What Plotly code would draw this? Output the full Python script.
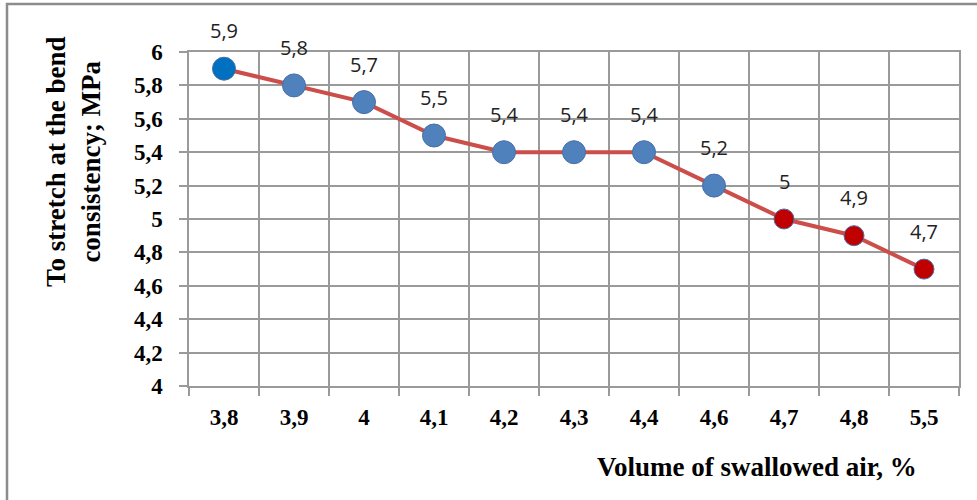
import plotly.graph_objects as go

categories = ["3,8", "3,9", "4", "4,1", "4,2", "4,3", "4,4", "4,6", "4,7", "4,8", "5,5"]
values = [5.9, 5.8, 5.7, 5.5, 5.4, 5.4, 5.4, 5.2, 5.0, 4.9, 4.7]
value_labels = ["5,9", "5,8", "5,7", "5,5", "5,4", "5,4", "5,4", "5,2", "5", "4,9", "4,7"]
marker_colors = ["#0070C0"] + ["#4F81BD"] * 7 + ["#C00000"] * 3
marker_sizes = [23] * 8 + [20] * 3
y_ticks = [4.0, 4.2, 4.4, 4.6, 4.8, 5.0, 5.2, 5.4, 5.6, 5.8, 6.0]
y_ticktext = ["4", "4,2", "4,4", "4,6", "4,8", "5", "5,2", "5,4", "5,6", "5,8", "6"]

L, R, T, B = 189, 18, 52, 114
W, H = 977, 500
pw, ph = W - L - R, H - T - B

xpos = list(range(len(categories)))

fig = go.Figure()
fig.add_trace(go.Scatter(
    x=xpos, y=values, mode="lines+markers",
    line=dict(color="#CC4E4B", width=4),
    marker=dict(color=marker_colors, size=marker_sizes, opacity=1,
                line=dict(color="#4A6FA5", width=1)),
    hoverinfo="skip", showlegend=False,
))

for i, v, t in zip(xpos, values, value_labels):
    fig.add_annotation(x=i, y=v, text=t, showarrow=False, yshift=38,
                       font=dict(family="Open Sans, Calibri, sans-serif", size=20, color="#222"))

serif = "Liberation Serif, Times New Roman, serif"
fig.update_xaxes(
    tickmode="array", tickvals=xpos, ticktext=categories, range=[-0.5, 10.5],
    showgrid=False,
    showline=True, linecolor="#9a9a9a", linewidth=1.5, mirror=True,
    ticks="",
    tickfont=dict(family=serif, size=23, color="black", weight="bold"),
    ticklabelstandoff=10, zeroline=False,
)
fig.update_xaxes(minor=dict(tickmode="array", tickvals=[i - 0.5 for i in xpos] + [len(xpos) - 0.5],
                            showgrid=True, gridcolor="#9a9a9a", gridwidth=1.5,
                            ticks="outside", ticklen=8, tickcolor="#9a9a9a", tickwidth=1.5))
fig.update_yaxes(
    range=[4, 6], tickvals=y_ticks, ticktext=y_ticktext,
    showgrid=True, gridcolor="#9a9a9a", gridwidth=1.5,
    showline=True, linecolor="#9a9a9a", linewidth=1.5, mirror=True,
    ticks="outside", ticklen=8, tickcolor="#9a9a9a", tickwidth=1.5,
    tickfont=dict(family=serif, size=23, color="black", weight="bold"),
    ticklabelstandoff=12, zeroline=False,
)

# y title
fig.add_annotation(
    xref="paper", yref="paper", xanchor="center", yanchor="middle",
    x=(73 - L) / pw, y=(H - B - 162) / ph,
    text="To stretch at the bend<br>consistency; MPa", textangle=-90,
    showarrow=False, font=dict(family=serif, size=27, color="black", weight="bold"),
)
# x title
fig.add_annotation(
    xref="paper", yref="paper", xanchor="center", yanchor="middle",
    x=(757 - L) / pw, y=(H - B - 467) / ph,
    text="Volume of swallowed air, %", showarrow=False,
    font=dict(family=serif, size=27, color="black", weight="bold"),
)
# outer frame
fig.add_shape(type="rect", xref="paper", yref="paper",
              x0=(7 - L) / pw, x1=(990 - L) / pw,
              y0=(H - B - 520) / ph, y1=(H - B - 4) / ph,
              line=dict(color="#8c8c8c", width=2.5), layer="below")

fig.update_layout(
    width=W, height=H, margin=dict(l=L, r=R, t=T, b=B),
    paper_bgcolor="white", plot_bgcolor="white",
)
fig.write_html("out.html", config={"displayModeBar": False},
               post_script="document.body.style.margin='0';document.body.style.overflow='hidden';")
